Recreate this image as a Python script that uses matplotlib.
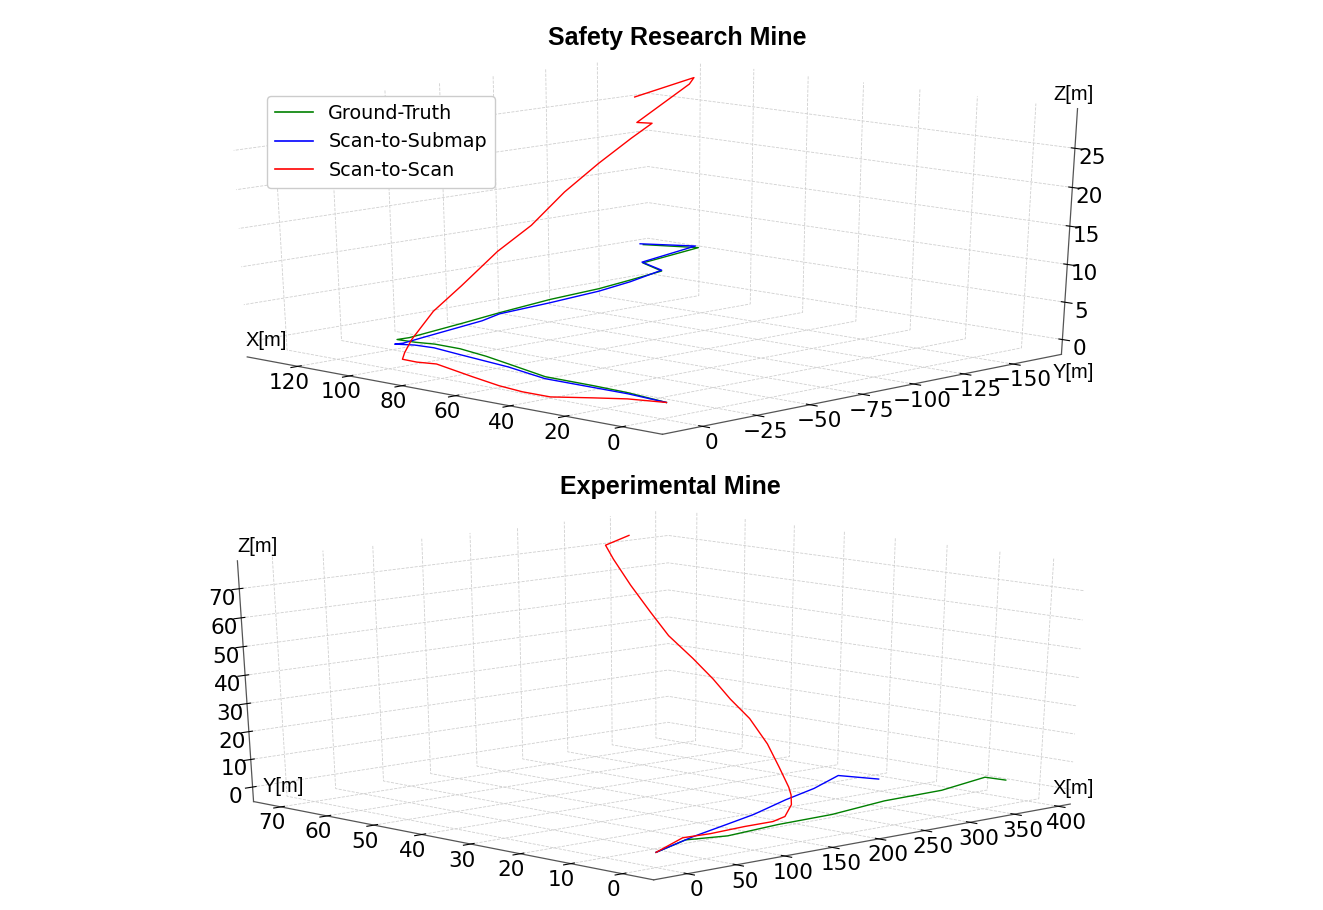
import matplotlib
matplotlib.use('Agg')
import matplotlib.pyplot as plt
from matplotlib.lines import Line2D

# ---------------- data: Safety Research Mine (top) ----------------
srm_gt_x = [0.0, 16.2, 29.3, 47.0, 66.7, 78.9, 91.8, 101.6, 107.4, 113.9, 113.6, 118.0, 121.1, 125.0, 126.1, 124.9, 121.6, 124.0, 101.0, 102.0]
srm_gt_y = [-2.0, -5.4, -6.4, -6.8, -14.5, -19.2, -22.9, -23.1, -21.0, -20.3, -25.6, -56.9, -77.4, -106.7, -132.3, -146.5, -158.0, -151.6, -149.5, -123.4]
srm_gt_z = [0, 0, 0, 0, 0, 0, 0, 0, 0, 0, 0, 0.2, 0.35, 0.5, 0.7, 1.3, 2.2, 3.5, 7.0, 8.55]

srm_sub_x = [0.0, 15.2, 45.1, 63.8, 86.0, 97.8, 104.5, 109.3, 108.7, 111.1, 116.6, 120.2, 121.2, 123.2, 122.9, 122.6, 125.1, 103.5, 103.6]
srm_sub_y = [-2.0, -4.1, -4.3, -10.7, -15.4, -18.1, -17.2, -13.8, -16.9, -28.7, -63.4, -76.2, -101.7, -128.5, -143.9, -159.3, -152.6, -151.3, -123.9]
srm_sub_z = [0, 0, 0, 0, 0, 0, 0, 0, 0, 0, 0.2, 0.3, 0.5, 0.7, 1.3, 2.2, 3.5, 7.0, 8.55]

srm_s2s_x = [0.0, 10.4, 17.7, 26.3, 36.3, 46.6, 60.4, 80.2, 85.9, 91.6, 95, 97, 99, 102, 105, 108, 111, 114, 117, 120, 122, 104, 102, 104]
srm_s2s_y = [-2.0, 2.2, 8.6, 16.8, 16.8, 14.6, 9.6, 1.9, 4.0, 3.7, -1.4, -7.1, -19.8, -36.7, -57.4, -77.2, -96.9, -117.2, -137.0, -151.1, -146.2, -148.5, -148.1, -122.0]
srm_s2s_z = [0, 0, 0, 0, 0, 0, 0, 0, 0, 0, 0.4, 1.7, 4.7, 7.1, 10.5, 12.9, 16.3, 19.1, 21.5, 22.8, 23.0, 28.8, 29.75, 28.1]

srm_xticks = [0, 20, 40, 60, 80, 100, 120]
srm_yticks = [0, -25, -50, -75, -100, -125, -150]
srm_zticks = [0, 5, 10, 15, 20, 25]

# ---------------- data: Experimental Mine (bottom) ----------------
em_gt_x = [0, 50, 84, 144, 203, 274, 339.5, 407, 409]
em_gt_y = [0, 3.8, 2.0, 3.3, 3.6, 6.0, 6.3, 9.4, 5.7]
em_gt_z = [0, 0, 0, 0, 0, 0, 0, 0, 0]

em_sub_x = [0, 63, 116, 160.6, 223, 274.6, 330, 341]
em_sub_y = [0, 4.8, 8.2, 11.1, 16.2, 19.9, 25.0, 18.9]
em_sub_z = [0, 0, 0, 0, 0, 0, 0, 0]

em_s2s_x = [0, 54.6, 81, 120, 150, 171.5, 211, 241, 250, 250, 250, 250, 250, 250, 250, 250, 250, 250, 250, 250, 275]
em_s2s_y = [0, 5.2, 4.8, 5.4, 5.4, 7.0, 12.9, 18.4, 20.5, 22.5, 24.9, 28.5, 32.4, 35.9, 40.0, 44.9, 48.5, 52.6, 56.1, 57.7, 57.7]
em_s2s_z = [0, 0, 0, 0, 0, 0, 0, 0, 1.6, 8.3, 15.9, 23.9, 29.7, 35.9, 42.1, 48.8, 56.0, 64.6, 72.9, 77.4, 79.8]

em_xticks = [0, 50, 100, 150, 200, 250, 300, 350, 400]
em_yticks = [0, 10, 20, 30, 40, 50, 60, 70]
em_zticks = [0, 10, 20, 30, 40, 50, 60, 70]

series_labels = ['Ground-Truth', 'Scan-to-Submap', 'Scan-to-Scan']
series_colors = ['green', 'blue', 'red']

W, H = 1323, 910
fig = plt.figure(figsize=(W / 100, H / 100), dpi=100)


def make_ax(rect):
    ax = fig.add_axes(rect, projection='3d')
    # keep the full (non-square) axes box, like older matplotlib did
    ax.apply_aspect = lambda position=None: None
    ax.set_box_aspect((1, 1, 1))
    for axis in (ax.xaxis, ax.yaxis, ax.zaxis):
        axis.set_pane_color((1, 1, 1, 0))
        axis.pane.set_edgecolor((1, 1, 1, 0))
        axis.line.set_color('#555555')
        axis.line.set_linewidth(0.9)
        axis._axinfo['grid'].update(color='#cfcfcf', linestyle='--', linewidth=0.6)
        axis.set_tick_params(labelsize=15.5, colors='black', pad=-2.5)
    return ax


# ---- top
ax1 = make_ax([148 / W, 1 - 462 / H, 987 / W, 442 / H])
ax1.view_init(elev=20.7, azim=134)
for xs, ys, zs, c in [(srm_gt_x, srm_gt_y, srm_gt_z, series_colors[0]),
                      (srm_sub_x, srm_sub_y, srm_sub_z, series_colors[1]),
                      (srm_s2s_x, srm_s2s_y, srm_s2s_z, series_colors[2])]:
    ax1.plot(xs, ys, zs, color=c, lw=1.0, clip_on=False)
ax1.set_xlim(-14, 140)
ax1.set_ylim(-175, 18)
ax1.set_zlim(-2, 30)
ax1.set_xticks(srm_xticks)
ax1.set_yticks(srm_yticks)
ax1.set_zticks(srm_zticks)

# ---- bottom
ax2 = make_ax([153 / W, 1 - 907 / H, 990 / W, 433 / H])
ax2.view_init(elev=20.7, azim=-134)
for xs, ys, zs, c in [(em_gt_x, em_gt_y, em_gt_z, series_colors[0]),
                      (em_sub_x, em_sub_y, em_sub_z, series_colors[1]),
                      (em_s2s_x, em_s2s_y, em_s2s_z, series_colors[2])]:
    ax2.plot(xs, ys, zs, color=c, lw=1.0, clip_on=False)
ax2.set_xlim(-34, 414)
ax2.set_ylim(-6, 76)
ax2.set_zlim(-5.3, 79.5)
ax2.set_xticks(em_xticks)
ax2.set_yticks(em_yticks)
ax2.set_zticks(em_zticks)

# titles and axis labels
fig.text(677 / W, 1 - 38 / H, 'Safety Research Mine', ha='center', va='center',
         fontsize=18, fontweight='bold', family='Liberation Sans')
fig.text(670 / W, 1 - 487 / H, 'Experimental Mine', ha='center', va='center',
         fontsize=18, fontweight='bold', family='Liberation Sans')
lab = dict(ha='center', va='center', fontsize=14.5, family='Liberation Sans')
fig.text(266 / W, 1 - 341 / H, 'X[m]', **lab)
fig.text(1073 / W, 1 - 373 / H, 'Y[m]', **lab)
fig.text(1073 / W, 1 - 94 / H, 'Z[m]', **lab)
fig.text(258 / W, 1 - 547 / H, 'Z[m]', **lab)
fig.text(283 / W, 1 - 787 / H, 'Y[m]', **lab)
fig.text(1073 / W, 1 - 788 / H, 'X[m]', **lab)

handles = [Line2D([], [], color=c, lw=1.2, label=l) for c, l in zip(series_colors, series_labels)]
fig.legend(handles=handles, loc='upper left', bbox_to_anchor=(267 / W, 1 - 96 / H),
           borderaxespad=0, fontsize=13.8, labelspacing=0.5, framealpha=1)

fig.savefig('out.png', dpi=100)
